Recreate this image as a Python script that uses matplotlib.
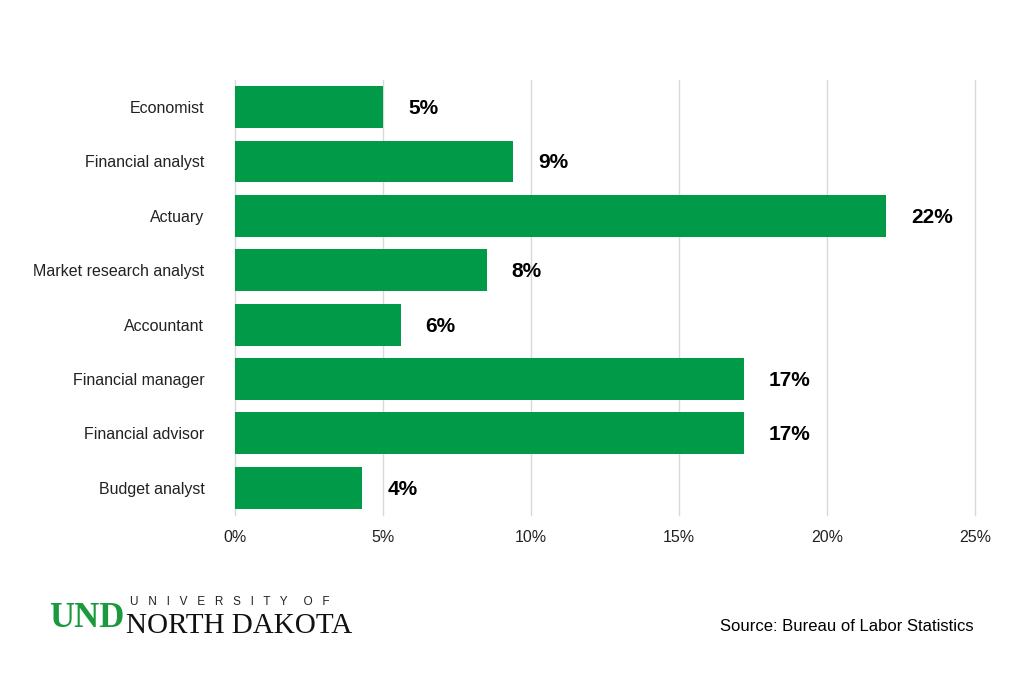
import matplotlib
matplotlib.use("Agg")
import matplotlib.pyplot as plt
from matplotlib.ticker import FuncFormatter

plt.rcParams['font.family'] = ['Liberation Sans', 'DejaVu Sans']

# Data
occupations = ['Economist', 'Financial analyst', 'Actuary', 'Market research analyst',
               'Accountant', 'Financial manager', 'Financial advisor', 'Budget analyst']
growth = [5.0, 9.4, 22.0, 8.5, 5.6, 17.2, 17.2, 4.3]
labels = ['5%', '9%', '22%', '8%', '6%', '17%', '17%', '4%']
xticks = [0, 5, 10, 15, 20, 25]

green = '#009a49'

fig = plt.figure(figsize=(10.24, 6.83), dpi=100)
ax = fig.add_axes([0.2295, 0.246, 0.7225, 0.637])

y = list(range(len(occupations)))
ax.barh(y, growth, height=0.77, color=green, zorder=2)

for yi, v, lab in zip(y, growth, labels):
    ax.annotate(lab, (v, yi), xytext=(18, -1), textcoords='offset points',
                va='center', ha='left', fontsize=15, fontweight='bold', color='black')

ax.set_xlim(0, 25)
ax.set_ylim(len(occupations) - 0.5, -0.5)
ax.set_xticks(xticks)
ax.xaxis.set_major_formatter(FuncFormatter(lambda v, p: f'{v:.0f}%'))
ax.set_yticks(y)
ax.set_yticklabels(occupations)
ax.tick_params(axis='x', length=0, pad=11, labelsize=11.5, colors='#222222')
ax.tick_params(axis='y', length=0, pad=22, labelsize=11.5, colors='#222222')
ax.grid(axis='x', color='#d9d9d9', linewidth=1, zorder=0)
for gl in ax.get_xgridlines():
    gl.set_clip_on(False)
for s in ax.spines.values():
    s.set_visible(False)

# Source note
fig.text(0.951, 0.083, 'Source: Bureau of Labor Statistics', ha='right', va='center',
         fontsize=12, color='black')

# University logo (text approximation)
fig.text(0.048, 0.095, 'UND', fontsize=25, fontweight='bold', color='#1a9a3c',
         ha='left', va='center', family='Liberation Serif')
fig.text(0.127, 0.118, 'U   N   I   V   E   R   S   I   T   Y     O   F', fontsize=8.5,
         color='#222222', ha='left', va='center')
fig.text(0.123, 0.083, 'NORTH DAKOTA', fontsize=21, color='#111111',
         ha='left', va='center', family='Liberation Serif')

fig.savefig('out.png', dpi=100)
